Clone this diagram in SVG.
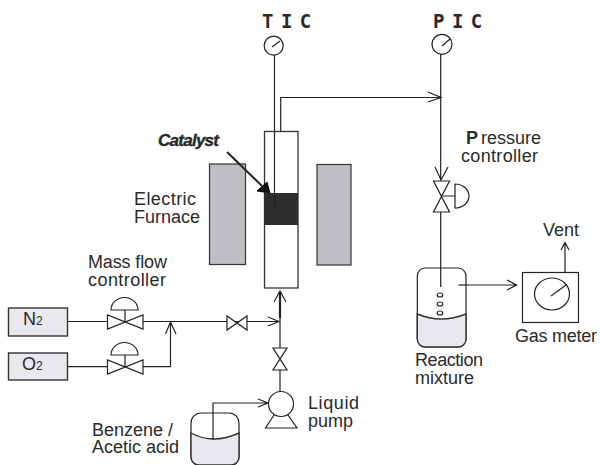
<svg xmlns="http://www.w3.org/2000/svg" width="600" height="465" viewBox="0 0 600 465">
<style>
text{font-family:"Liberation Sans",Arial,sans-serif;font-size:18px;fill:#2a2a2a}
.m{font-family:"DejaVu Sans Mono","Liberation Mono",monospace;font-size:19px;font-weight:700;letter-spacing:-2px}
.c{font-size:17px;font-style:italic;font-weight:700;stroke:#2a2a2a;stroke-width:.4px}
.l{fill:none;stroke:#222;stroke-width:1.2}
.s{fill:#fff;stroke:#222;stroke-width:1.2}
.b{fill:#e8e8ee;stroke:#333;stroke-width:1.4}
.g{fill:#bfc0c3;stroke:#333;stroke-width:1.2}
</style>
<rect width="600" height="465" fill="#fff"/>
<g id="connectors">
<path class="l" d="M67 321.500H278M68 366.700H170.500V322M165.500 334L170.500 322L176 334M268 317L279 321.500L268 326"/>
<path class="l" d="M280 392V291M274 302L280 291L286 302"/>
<path d="M280 292V318" stroke="#222" stroke-width="2.200" fill="none"/>
<path class="l" d="M213 440V403H268M258 399L268 403L258 407"/>
<path class="l" d="M274.500 55V211M280.700 131V97.500H441M428 92L441 97.500L428 102"/>
<path class="l" d="M440.700 54V181M435 167L441 180L448 167M440.700 212V287"/>
<path class="l" d="M458.500 285H516M507 280L516.500 285L507 290M565 272V243M561 250L565 242.500L569 250"/>
</g>
<g id="n2"><rect class="b" x="8.500" y="308" width="59" height="28"/><text x="23" y="325">N<tspan style="font-size:12px">2</tspan></text></g>
<g id="o2"><rect class="b" x="8.500" y="353" width="59" height="27"/><text x="22" y="370">O<tspan style="font-size:12px">2</tspan></text></g>
<g id="mass-flow-label"><text x="88" y="268" textLength="79">Mass flow</text><text x="88" y="286" textLength="78">controller</text></g>
<g id="mfc-n2"><path class="s" d="M107.500 315V329L143 315V329Z"/><path class="l" d="M125 322V310M111 310A13.500 12.500 0 0 1 138 310Z"/></g>
<g id="mfc-o2"><path class="s" d="M107.500 360V374L143 360V374Z"/><path class="l" d="M125 367V355M111 355A13.500 12.500 0 0 1 138 355Z"/></g>
<g id="shutoff-valve"><path class="s" d="M227 316V330L247 316V330Z"/></g>
<g id="feed-valve"><path class="s" d="M273 348H287L273 370H287Z"/></g>
<g id="pump"><circle class="s" cx="281" cy="404" r="12.500"/><path class="l" d="M274 415L265.500 428H297L288 415"/><text x="308" y="409" textLength="51">Liquid</text><text x="308" y="427">pump</text></g>
<g id="benzene"><path class="s" d="M191 423A10 10 0 0 1 201 413H229A10 10 0 0 1 239 423V457A8 8 0 0 1 231 465H199A8 8 0 0 1 191 457Z"/><path class="b" d="M191 433Q213 445 239 433V457A8 8 0 0 1 231 465H199A8 8 0 0 1 191 457Z"/><path class="l" d="M213 413V440"/><text x="92" y="436">Benzene /</text><text x="92" y="453">Acetic acid</text></g>
<g id="furnace"><rect class="g" x="209.500" y="164" width="36" height="100.500"/><rect class="g" x="317" y="164.500" width="34" height="100.500"/><text x="134" y="205" textLength="62">Electric</text><text x="134" y="223">Furnace</text></g>
<g id="reactor"><rect x="264.500" y="131.500" width="33.500" height="156.500" fill="#fff" stroke="#333" stroke-width="1.300"/><rect x="264.500" y="193" width="33.500" height="32" fill="#2d2d2d"/><path d="M274.500 131.500V211" stroke="#222" stroke-width="1.200"/></g>
<g id="catalyst"><text class="c" x="158" y="146" textLength="61">Catalyst</text><path d="M227 152L262 186" stroke="#222" stroke-width="2" fill="none"/><path d="M257 191L267 182L270 193Z" fill="#111" stroke="#111"/></g>
<g id="tic"><text class="m" x="262" y="28" xml:space="preserve">T I C</text><circle class="s" cx="273.700" cy="45.700" r="9.500"/><path class="l" d="M272 47L280 41"/></g>
<g id="pic"><text class="m" x="433" y="28" xml:space="preserve">P I C</text><circle class="s" cx="442" cy="44.300" r="10"/><path class="l" d="M442 46L450 39"/></g>
<g id="pressure-controller"><text x="466" y="144"><tspan font-weight="700">P</tspan><tspan x="481">ressure</tspan></text><text x="461" y="162" textLength="77">controller</text><path class="s" d="M433.500 181H449.500L433.500 212H449.500Z"/><path class="l" d="M441 196H455M455 184V208A14 12 0 0 0 455 184Z"/></g>
<g id="reaction-vessel"><path class="s" d="M417.300 276A8 8 0 0 1 425.300 268H458A8 8 0 0 1 466 276V339A8 8 0 0 1 458 347H425.300A8 8 0 0 1 417.300 339Z"/><path class="b" d="M417.300 314Q441 324 466 314V339A8 8 0 0 1 458 347H425.300A8 8 0 0 1 417.300 339Z"/><path class="l" d="M440.700 268V287"/><ellipse class="l" cx="440" cy="295" rx="2.800" ry="2"/><ellipse class="l" cx="440" cy="304" rx="2.800" ry="2"/><ellipse class="l" cx="440" cy="313" rx="2.800" ry="2"/><path class="l" d="M458.500 285H466"/><text x="415" y="366" textLength="68">Reaction</text><text x="415" y="384">mixture</text></g>
<g id="gas-meter"><rect class="s" x="522.500" y="272.500" width="56" height="50"/><ellipse class="l" cx="552" cy="294" rx="17.500" ry="16"/><path class="l" d="M551 296L566 285"/><text x="515" y="342" textLength="82">Gas meter</text><text x="543" y="236">Vent</text></g>
</svg>
